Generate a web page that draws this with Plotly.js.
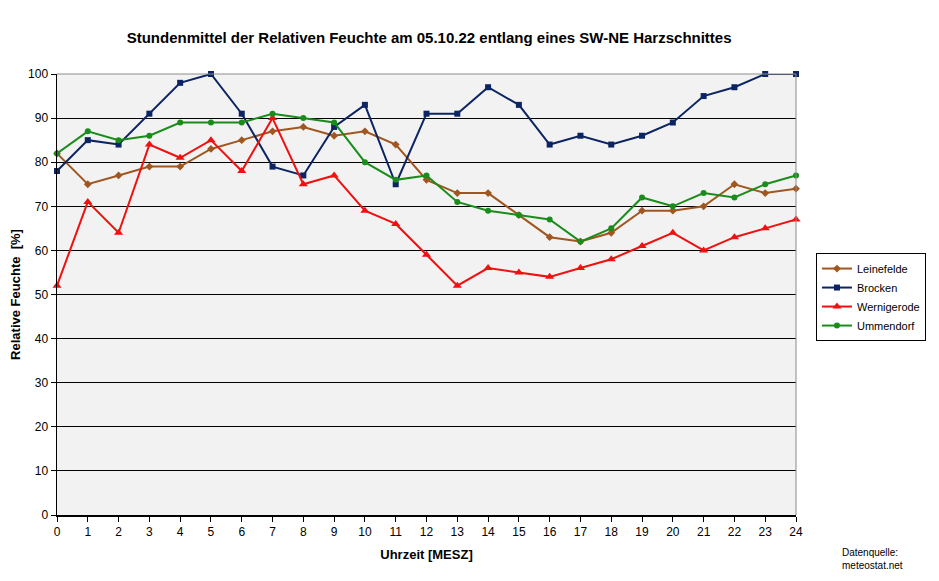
<!DOCTYPE html>
<html>
<head>
<meta charset="utf-8">
<script src="https://cdn.plot.ly/plotly-3.0.1.min.js"></script>
<style>
  html, body { margin: 0; padding: 0; background: #ffffff; }
  #chart { width: 939px; height: 581px; }
</style>
</head>
<body>
<div id="chart"></div>
<script>
// Stunden 0..24 (MESZ)
const hours = [0,1,2,3,4,5,6,7,8,9,10,11,12,13,14,15,16,17,18,19,20,21,22,23,24];

// relative Feuchte in %
const leinefelde  = [82,75,77,79,79,83,85,87,88,86,87,84,76,73,73,68,63,62,64,69,69,70,75,73,74];
const brocken     = [78,85,84,91,98,100,91,79,77,88,93,75,91,91,97,93,84,86,84,86,89,95,97,100,100];
const wernigerode = [52,71,64,84,81,85,78,90,75,77,69,66,59,52,56,55,54,56,58,61,64,60,63,65,67];
const ummendorf   = [82,87,85,86,89,89,89,91,90,89,80,76,77,71,69,68,67,62,65,72,70,73,72,75,77];

const yTicks = [0,10,20,30,40,50,60,70,80,90,100];

function series(name, y, color, symbol, size) {
    return {
        x: hours,
        y: y,
        name: name,
        type: 'scatter',
        mode: 'lines+markers',
        cliponaxis: false,
        line: {color: color, width: 2},
        marker: {color: color, symbol: symbol, size: size}
    };
}

const data = [
    series('Leinefelde', leinefelde, '#a0561e', 'diamond', 6),
    series('Brocken', brocken, '#0c2461', 'square', 6),
    series('Wernigerode', wernigerode, '#f01010', 'triangle-up', 8),
    series('Ummendorf', ummendorf, '#1a8c1a', 'circle', 6)
];

const layout = {
    width: 939,
    height: 581,
    margin: {l: 57, r: 143, t: 74, b: 66},
    paper_bgcolor: '#ffffff',
    plot_bgcolor: '#f2f2f2',
    font: {family: 'Arial, Liberation Sans, sans-serif', size: 12, color: '#000'},
    title: {
        text: '<b>Stundenmittel der Relativen Feuchte am 05.10.22 entlang eines SW-NE Harzschnittes</b>',
        font: {size: 15},
        x: 0.457, xanchor: 'center',
        y: 0.935, yanchor: 'middle'
    },
    xaxis: {
        range: [0, 24],
        tickvals: hours,
        ticks: 'outside', ticklen: 5, tickcolor: '#000',
        showgrid: false, zeroline: false,
        showline: true, linecolor: '#000', linewidth: 1.5,
        mirror: false,
        tickfont: {size: 12},
        title: {text: '<b>Uhrzeit [MESZ]</b>', font: {size: 13}, standoff: 12}
    },
    yaxis: {
        range: [0, 100],
        tickvals: yTicks,
        ticks: 'outside', ticklen: 5, tickcolor: '#000',
        showgrid: true, gridcolor: '#000', gridwidth: 1,
        zeroline: false,
        showline: true, linecolor: '#000', linewidth: 1.5,
        tickfont: {size: 12},
        title: {text: '<b>Relative Feuchte  [%]</b>', font: {size: 13}, standoff: 4}
    },
    shapes: [
        {type: 'line', xref: 'paper', yref: 'paper', x0: 1, x1: 1, y0: 0, y1: 1,
         line: {color: '#8c8c8c', width: 1}},
        {type: 'line', xref: 'paper', yref: 'paper', x0: 0, x1: 1, y0: 1, y1: 1,
         line: {color: '#8c8c8c', width: 1}}
    ],
    legend: {
        x: 1.027, xanchor: 'left',
        y: 0.594, yanchor: 'top',
        bgcolor: '#ffffff',
        bordercolor: '#000', borderwidth: 1,
        font: {size: 11},
        itemwidth: 30,
        tracegroupgap: 0
    },
    annotations: [
        {
            text: 'Datenquelle:<br>meteostat.net',
            xref: 'paper', yref: 'paper',
            x: 1.06, y: -0.068,
            xanchor: 'left', yanchor: 'top',
            showarrow: false, align: 'left',
            font: {size: 10}
        }
    ],
    showlegend: true
};

Plotly.newPlot('chart', data, layout, {displayModeBar: false, staticPlot: true});
</script>
</body>
</html>
